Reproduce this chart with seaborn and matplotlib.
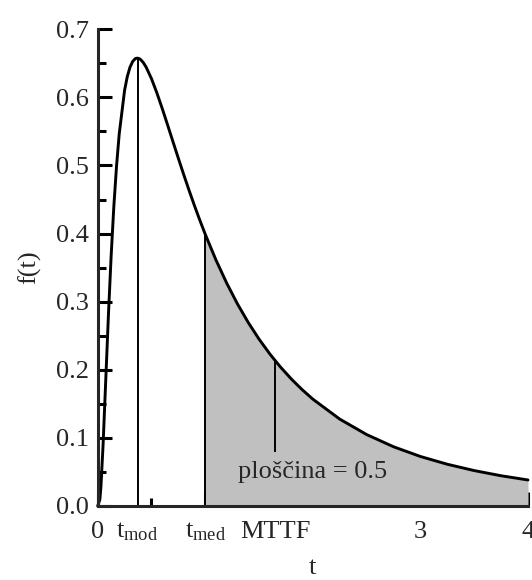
import numpy as np
import pandas as pd
import matplotlib
matplotlib.use("Agg")
import matplotlib.pyplot as plt
import seaborn as sns

# --- data ---
t_vals = [0.0, 0.02, 0.03, 0.05, 0.075, 0.1, 0.125, 0.15, 0.175, 0.2, 0.25, 0.275,
          0.3, 0.325, 0.35, 0.37, 0.39, 0.4, 0.425, 0.45, 0.5, 0.55, 0.6, 0.65,
          0.7, 0.75, 0.8, 0.85, 0.9, 0.95, 1.0, 1.1, 1.2, 1.3, 1.4, 1.5, 1.6, 1.65,
          1.7, 1.8, 1.9, 2.0, 2.25, 2.5, 2.75, 3.0, 3.25, 3.5, 3.75, 4.0]
f_vals = [0.0, 0.0095, 0.0284, 0.0898, 0.1856, 0.2816, 0.3673, 0.4399, 0.4991,
          0.5463, 0.6105, 0.6305, 0.6442, 0.6527, 0.6570, 0.6577, 0.6566, 0.6554,
          0.6509, 0.6445, 0.6275, 0.6066, 0.5836, 0.5594, 0.5348, 0.5104, 0.4864,
          0.4632, 0.4408, 0.4194, 0.3989, 0.3610, 0.3270, 0.2965, 0.2693, 0.2450,
          0.2233, 0.2135, 0.2039, 0.1865, 0.1709, 0.1569, 0.1276, 0.1049, 0.0870,
          0.0727, 0.0613, 0.0520, 0.0444, 0.0382]

marker_t = [0.37, 1.0, 1.65]          # t_mod, t_med, MTTF
marker_top = [0.6577, 0.3989, 0.2135]
marker_bottom = [0.0, 0.0, 0.08]

shade_from = 1.0
area_label = "ploščina = 0.5"
xtick_pos = [0, 1, 2, 3, 4]
xtick_labels = ["0", "", "", "3", "4"]
extra_labels = [r"$\mathrm{t}_{\mathrm{mod}}$", r"$\mathrm{t}_{\mathrm{med}}$", "MTTF"]
ytick_pos = [0.0, 0.1, 0.2, 0.3, 0.4, 0.5, 0.6, 0.7]
ytick_labels = ["0.0", "0.1", "0.2", "0.3", "0.4", "0.5", "0.6", "0.7"]

df = pd.DataFrame({"t": t_vals, "f": f_vals})

sns.set_style("ticks")
plt.rcParams["font.family"] = ["Liberation Serif", "DejaVu Serif"]
plt.rcParams["mathtext.fontset"] = "custom"
plt.rcParams["mathtext.rm"] = "Liberation Serif"
plt.rcParams["mathtext.it"] = "Liberation Serif:italic"

FS = 19
fig = plt.figure(figsize=(5.32, 5.80), dpi=100)
ax = fig.add_axes([97.7 / 532, 74 / 580, (528 - 97.7) / 532, (506 - 29.3) / 580])

# shaded area
mask = df["t"] >= shade_from
ax.fill_between(df.loc[mask, "t"], 0, df.loc[mask, "f"], color="#c0c0c0", lw=0, zorder=1)

# vertical marker lines
ax.vlines(marker_t, marker_bottom, marker_top, colors="black", lw=1.4, zorder=2)

# curve
sns.lineplot(data=df, x="t", y="f", ax=ax, color="black", lw=2.1, zorder=3,
             solid_joinstyle="round", clip_on=False)

ax.set_xlim(0, 4)
ax.set_ylim(0, 0.7)

for s in ["top", "right"]:
    ax.spines[s].set_visible(False)
for s in ["left", "bottom"]:
    ax.spines[s].set_linewidth(2.2)
    ax.spines[s].set_zorder(4)

ax.set_xticks(xtick_pos)
ax.set_xticklabels(xtick_labels)
ax.set_xticks(np.arange(0.5, 4, 1.0), minor=True)
ax.set_yticks(ytick_pos)
ax.set_yticklabels(ytick_labels)
ax.set_yticks(np.arange(0.05, 0.7, 0.1), minor=True)

ax.tick_params(axis="both", which="major", direction="in", length=10, width=2.2,
               labelsize=FS, color="black")
ax.tick_params(axis="both", which="minor", direction="in", length=6, width=2.2,
               color="black")
ax.tick_params(axis="x", which="major", pad=11)
ax.tick_params(axis="y", which="major", pad=6)

# custom labels at marker positions
trans = ax.get_xaxis_transform()
for xp, lab in zip(marker_t, extra_labels):
    ax.text(xp, -0.031, lab, transform=trans, ha="center", va="top", fontsize=FS)

ax.text(2.0, 0.05, area_label, ha="center", va="center", fontsize=FS, zorder=5)

ax.set_xlabel("t", fontsize=FS, labelpad=10)
ax.set_ylabel("f(t)", fontsize=FS, labelpad=11)

fig.savefig("out.png", dpi=100)
